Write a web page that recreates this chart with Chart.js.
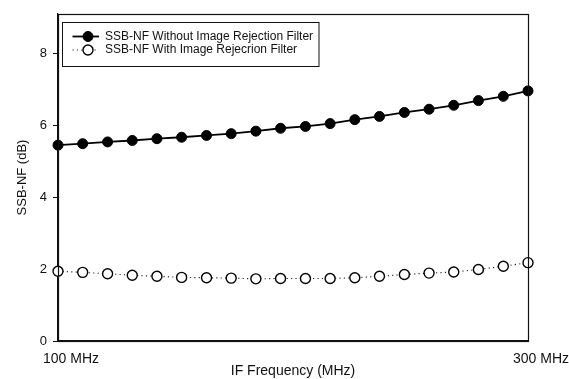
<!DOCTYPE html>
<html>
<head>
<meta charset="utf-8">
<script src="https://cdn.jsdelivr.net/npm/chart.js@4/dist/chart.umd.min.js"></script>
<style>
  html, body { margin: 0; padding: 0; background: #fff; }
  #wrap { width: 569px; height: 379px; position: relative; }
</style>
</head>
<body>
<div id="wrap"><canvas id="c" width="569" height="379"></canvas></div>
<script>
// ---- data ----
const ifFreqMHz = [100, 110.5, 121.1, 131.6, 142.1, 152.6, 163.2, 173.7, 184.2, 194.7,
                   205.3, 215.8, 226.3, 236.8, 247.4, 257.9, 268.4, 278.9, 289.5, 300];
const nfWithoutFilter = [5.45, 5.49, 5.54, 5.58, 5.63, 5.67, 5.72, 5.77, 5.84, 5.92,
                         5.97, 6.05, 6.16, 6.25, 6.36, 6.45, 6.56, 6.69, 6.81, 6.96];
const nfWithFilter = [1.94, 1.91, 1.87, 1.83, 1.80, 1.77, 1.76, 1.75, 1.73, 1.74,
                      1.74, 1.74, 1.76, 1.80, 1.85, 1.89, 1.92, 1.99, 2.08, 2.18];
const seriesNames = ['SSB-NF Without Image Rejection Filter', 'SSB-NF With Image Rejecrion Filter'];
const xTicks = [100, 300];
const yTicks = [0, 2, 4, 6, 8];
const xTitle = 'IF Frequency (MHz)';
const yTitle = 'SSB-NF (dB)';

const FONT = "'Liberation Sans', Arial, Helvetica, sans-serif";

const toPoints = (ys) => ys.map((y, i) => ({ x: ifFreqMHz[i], y }));

const framePlugin = {
  id: 'frame',
  afterDraw(chart) {
    const { ctx, chartArea: a } = chart;
    ctx.save();
    ctx.strokeStyle = '#111';
    ctx.lineWidth = 1.2;
    ctx.strokeRect(Math.round(a.left) + 0.5, Math.round(a.top) + 0.5,
                   Math.round(a.right - a.left), Math.round(a.bottom - a.top));
    ctx.restore();
  }
};

const legendPlugin = {
  id: 'boxLegend',
  afterDraw(chart) {
    const ctx = chart.ctx;
    ctx.save();
    ctx.strokeStyle = '#111';
    ctx.lineWidth = 1;
    ctx.strokeRect(62.5, 22.5, 256.5, 44);
    const rows = [36.5, 50];
    chart.data.datasets.forEach((ds, i) => {
      const y = rows[i];
      ctx.strokeStyle = ds.borderColor;
      ctx.lineWidth = ds.borderWidth;
      ctx.setLineDash(ds.borderDash || []);
      ctx.beginPath();
      ctx.moveTo(72.5, y);
      ctx.lineTo(99, y);
      ctx.stroke();
      ctx.setLineDash([]);
      ctx.beginPath();
      ctx.arc(88, y, ds.pointRadius, 0, Math.PI * 2);
      ctx.fillStyle = ds.pointBackgroundColor;
      ctx.fill();
      ctx.lineWidth = ds.pointBorderWidth;
      ctx.strokeStyle = ds.pointBorderColor;
      ctx.stroke();
      ctx.fillStyle = '#111';
      ctx.font = '12px ' + FONT;
      ctx.textBaseline = 'middle';
      ctx.textAlign = 'left';
      ctx.fillText(ds.label, 105, y);
    });
    ctx.restore();
  }
};

new Chart(document.getElementById('c'), {
  type: 'line',
  data: {
    datasets: [
      {
        label: seriesNames[0],
        data: toPoints(nfWithoutFilter),
        borderColor: '#000',
        borderWidth: 1.8,
        pointRadius: 5,
        pointBackgroundColor: '#000',
        pointBorderColor: '#000',
        pointBorderWidth: 1,
        tension: 0,
        clip: false
      },
      {
        label: seriesNames[1],
        data: toPoints(nfWithFilter),
        borderColor: '#222',
        borderWidth: 1.1,
        borderDash: [1.2, 3.2],
        pointRadius: 5,
        pointBackgroundColor: '#fff',
        pointBorderColor: '#000',
        pointBorderWidth: 1.4,
        tension: 0,
        clip: false
      }
    ]
  },
  options: {
    responsive: false,
    animation: false,
    devicePixelRatio: 1,
    layout: { padding: { left: 0, right: 41, top: 14, bottom: 0 } },
    plugins: { legend: { display: false }, tooltip: { enabled: false } },
    scales: {
      x: {
        type: 'linear',
        min: 100,
        max: 300,
        afterBuildTicks: (s) => { s.ticks = xTicks.map(v => ({ value: v })); },
        afterFit: (s) => { s.height = 38; },
        grid: { display: false, drawTicks: false },
        border: { display: true, color: '#111', width: 1.2 },
        ticks: {
          autoSkip: false,
          maxRotation: 0,
          padding: 10,
          labelOffset: 13,
          color: '#111',
          font: { family: FONT, size: 14 },
          callback: (v) => v + ' MHz'
        },
        title: {
          display: true,
          text: xTitle,
          color: '#111',
          padding: { top: 0, bottom: -1 },
          font: { family: FONT, size: 14 }
        }
      },
      y: {
        min: 0,
        max: 9.1,
        afterBuildTicks: (s) => { s.ticks = yTicks.map(v => ({ value: v })); },
        afterFit: (s) => { s.width = 58; },
        grid: { display: true, drawOnChartArea: false, drawTicks: true, tickLength: 5, color: '#111', lineWidth: 1 },
        border: { display: true, color: '#111', width: 1.2 },
        ticks: {
          padding: 6,
          color: '#111',
          font: { family: FONT, size: 13 }
        },
        title: {
          display: true,
          text: yTitle,
          color: '#111',
          padding: { top: 15, bottom: 0 },
          font: { family: FONT, size: 13 }
        }
      }
    }
  },
  plugins: [framePlugin, legendPlugin]
});
</script>
</body>
</html>
